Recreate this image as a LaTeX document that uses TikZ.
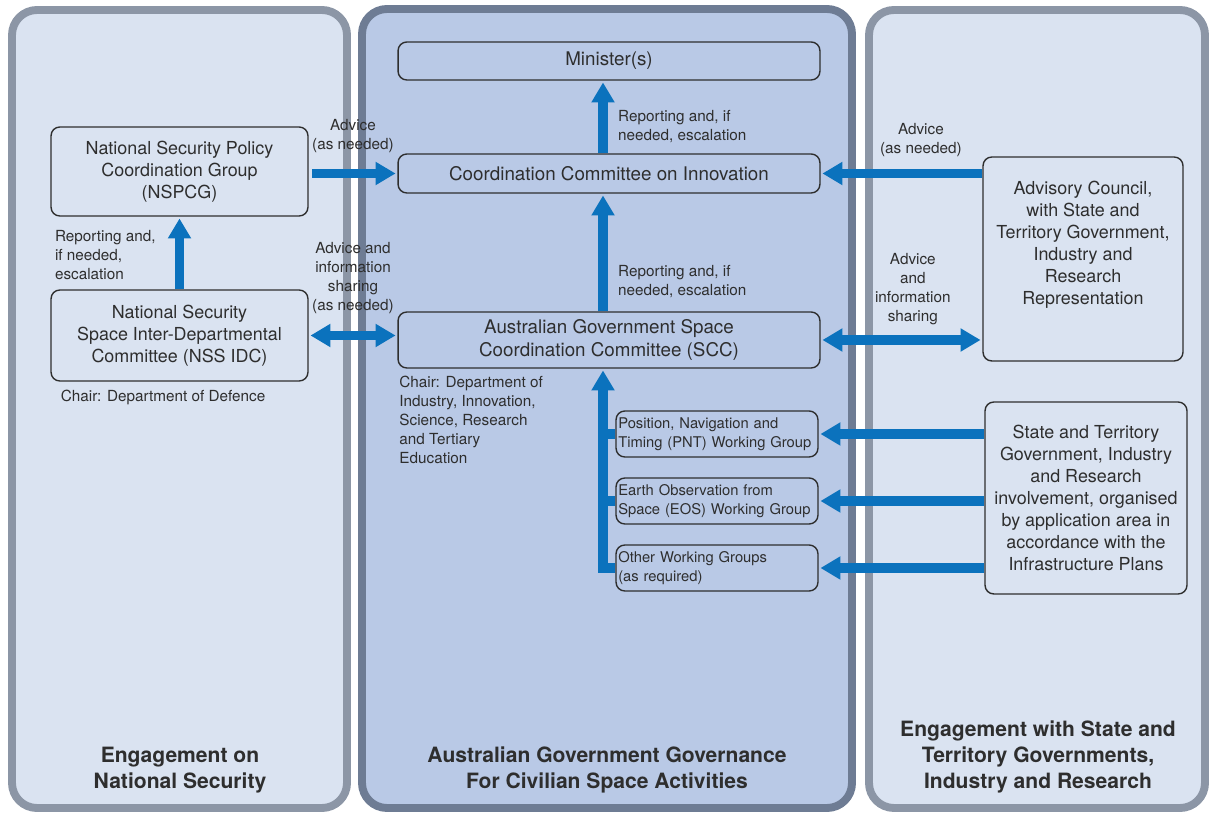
\documentclass[tikz,border=0pt]{standalone}
\usepackage{fontspec}
\setmainfont{TeX Gyre Heros}
\usetikzlibrary{positioning,arrows.meta}

\definecolor{panelfill}{HTML}{DAE3F1}
\definecolor{midfill}{HTML}{B9C9E6}
\definecolor{panelrim}{HTML}{8C96A6}
\definecolor{midrim}{HTML}{6E7C94}
\definecolor{flowblue}{HTML}{0B72BD}
\definecolor{ink}{HTML}{2E2E2E}

\tikzset{
  box/.style={draw=ink, line width=0.8pt, rounded corners=5pt, align=center, text=ink,
    font=\fontsize{10.2}{12.6}\selectfont, inner sep=2pt},
  bigbox/.style={box, font=\fontsize{10.7}{13}\selectfont, minimum width=8.44cm},
  wg/.style={box, align=left, font=\fontsize{8.4}{10.8}\selectfont, text width=3.95cm,
    inner xsep=0.045cm, minimum height=0.92cm},
  lbl/.style={text=ink, font=\fontsize{8.7}{10.8}\selectfont, align=center, inner sep=1pt},
  paneltitle/.style={text=ink, font=\bfseries\fontsize{12}{14.8}\selectfont, align=center},
  pipe/.style={draw=flowblue, line width=5.2pt},
  flow/.style={pipe, -{Triangle[width=0.44cm,length=0.4cm]}, shorten >=1pt},
  twoway/.style={pipe, {Triangle[width=0.44cm,length=0.4cm]}-{Triangle[width=0.44cm,length=0.4cm]},
    shorten >=1pt, shorten <=1pt},
  panel/.style={line width=4.5pt, rounded corners=0.5cm},
}

\begin{document}
\begin{tikzpicture}[x=0.02cm, y=-0.02cm]
  \useasboundingbox (0,0) rectangle (1213,813);

  % the three columns
  \draw[panel, draw=panelrim, fill=panelfill] (12,10) rectangle (347,808);
  \draw[panel, draw=midrim, fill=midfill] (362,9) rectangle (852,808);
  \draw[panel, draw=panelrim, fill=panelfill] (869,10) rectangle (1205,808);

  % governance column
  \node[bigbox, minimum height=0.76cm] (minister) at (609,61) {Minister(s)};
  \node[bigbox, minimum height=0.78cm] (cci) at (609,173.5) {Coordination Committee on Innovation};
  \node[bigbox, minimum height=1.12cm] (scc) at (609,340) {Australian Government Space\\Coordination Committee (SCC)};
  \node[lbl, align=left, anchor=north west] (sccchair) at ([yshift=-0.1cm]scc.south west)
    {Chair: Department of\\Industry, Innovation,\\Science, Research\\and Tertiary\\Education};
  \coordinate (spine) at (603,0);

  \node[wg] (pnt) at (717,434) {Position, Navigation and\\Timing (PNT) Working Group};
  \node[wg] (eos) at (717,501) {Earth Observation from\\Space (EOS) Working Group};
  \node[wg] (owg) at (717,568) {Other Working Groups\\(as required)};

  % national security column
  \node[box, minimum width=5.14cm, minimum height=1.78cm] (nspcg) at (179.5,171.5)
    {National Security Policy\\Coordination Group\\(NSPCG)};
  \node[box, minimum width=5.14cm, minimum height=1.82cm] (nssidc) at (179.5,335.5)
    {National Security\\Space Inter-Departmental\\Committee (NSS IDC)};
  \node[lbl, anchor=north west] (nsschair) at ([xshift=0.17cm,yshift=-0.12cm]nssidc.south west)
    {Chair: Department of Defence};

  % state, territory and industry column
  \node[box, minimum width=4cm, minimum height=4.08cm] (advisory) at (1083,259)
    {Advisory Council,\\with State and\\Territory Government,\\Industry and\\Research\\Representation\\[6pt]\mbox{}};
  \node[box, minimum width=4.04cm, minimum height=3.84cm] (state) at (1086,498)
    {State and Territory\\Government, Industry\\and Research\\involvement, organised\\by application area in\\accordance with the\\Infrastructure Plans};

  % column titles
  \node[paneltitle] (nstitle) at (180,770) {Engagement on\\National Security};
  \node[paneltitle] (govtitle) at (607,770) {Australian Government Governance\\For Civilian Space Activities};
  \node[paneltitle] (sttitle) at (1038,757) {Engagement with State and\\Territory Governments,\\Industry and Research};

  % reporting lines
  \draw[flow] (cci.north -| spine) -- node[lbl, right=5pt, align=left, pos=0.37] {Reporting and, if\\needed, escalation} (minister.south -| spine);
  \draw[flow] (scc.north -| spine) -- node[lbl, right=5pt, align=left, pos=0.25] {Reporting and, if\\needed, escalation} (cci.south -| spine);
  \draw[flow] (nssidc.north) -- node[lbl, left=10pt, align=left, pos=0.47] {Reporting and,\\if needed,\\escalation} (nspcg.south);
  \draw[pipe] (pnt.west) -- (pnt.west -| spine);
  \draw[pipe] (eos.west) -- (eos.west -| spine);
  \draw[flow] (owg.west) -- (owg.west -| spine) -- (scc.south -| spine);

  % advice lines
  \draw[flow, shorten <=2pt] (cci.west -| nspcg.east) -- node[lbl, above=8pt] {Advice\\(as needed)} (cci.west);
  \draw[flow] (cci.east -| advisory.west) -- node[lbl, above=6pt, pos=0.38] {Advice\\(as needed)} (cci.east);
  \draw[twoway] (nssidc.east) -- node[lbl, above=9pt] {Advice and\\information\\sharing\\(as needed)} (nssidc.east -| scc.west);
  \draw[twoway] (scc.east) -- node[lbl, above=5pt, pos=0.57] {Advice\\and\\information\\sharing} (scc.east -| advisory.west);
  \draw[flow] (pnt.east -| state.west) -- (pnt.east);
  \draw[flow] (eos.east -| state.west) -- (eos.east);
  \draw[flow] (owg.east -| state.west) -- (owg.east);
\end{tikzpicture}
\end{document}
